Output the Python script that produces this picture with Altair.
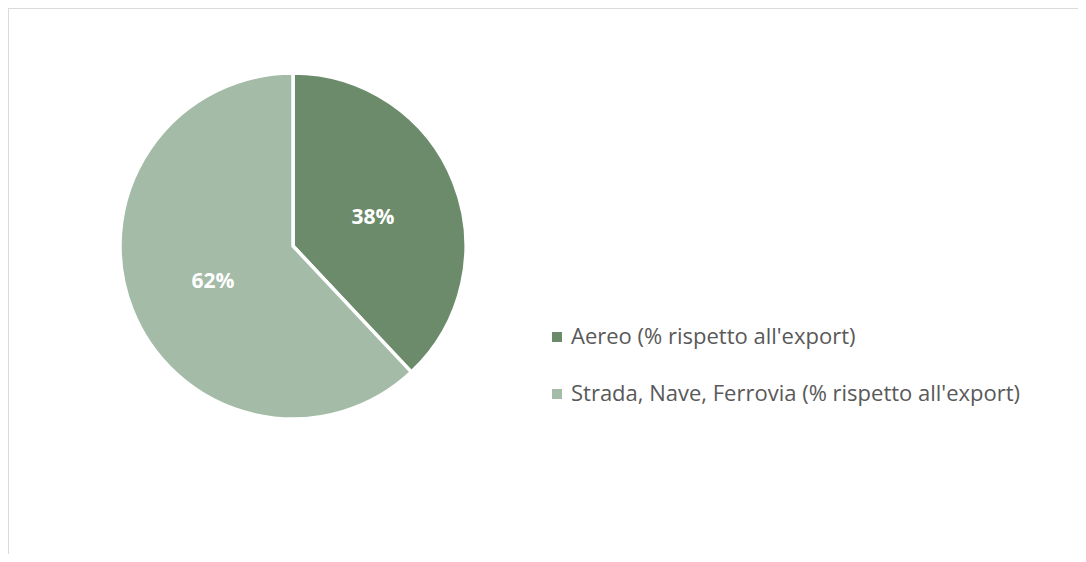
import altair as alt
import pandas as pd

categories = ["Aereo (% rispetto all'export)", "Strada, Nave, Ferrovia (% rispetto all'export)"]
values = [38, 62]
labels = ["38%", "62%"]
colors = ["#6b8b6b", "#a3bba7"]

df = pd.DataFrame({"cat": categories, "val": values, "lab": labels, "order": [0, 1]})

base = alt.Chart(df).encode(
    theta=alt.Theta("val:Q", stack=True),
    order=alt.Order("order:Q"),
    x=alt.value(285),
    y=alt.value(238),
)

arc = base.mark_arc(outerRadius=173, stroke="white", strokeWidth=3.5).encode(
    color=alt.Color(
        "cat:N",
        scale=alt.Scale(domain=categories, range=colors),
        sort=categories,
        legend=alt.Legend(
            title=None,
            orient="none",
            legendX=538,
            legendY=318,
            labelFontSize=22,
            labelFont="Open Sans",
            labelColor="#595959",
            symbolType="square",
            symbolSize=100,
            symbolStrokeWidth=0,
            rowPadding=35,
            labelOffset=3,
            labelLimit=700,
        ),
    )
)

text = base.mark_text(radius=86, dy=4, font="Open Sans", fontWeight="bold", fontSize=21, color="white").encode(
    text="lab:N"
)

border_top = alt.Chart(df).mark_rule(color="#d9d9d9", strokeWidth=1.5).encode(
    x=alt.value(0), x2=alt.value(1070), y=alt.value(0)
)
border_left = alt.Chart(df).mark_rule(color="#d9d9d9", strokeWidth=1.5).encode(
    x=alt.value(0), y=alt.value(0), y2=alt.value(546)
)

chart = (border_top + border_left + arc + text).properties(
    width=1070, height=546, autosize=alt.AutoSizeParams(type="none"), padding=0
).configure_view(strokeWidth=0)

chart.save("out.html", embed_options={"renderer": "svg", "actions": False})
